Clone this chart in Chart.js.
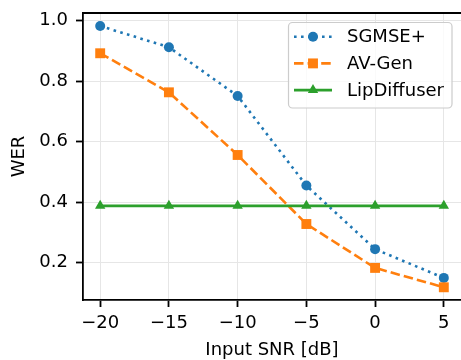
<!DOCTYPE html>
<html>
<head>
<meta charset="utf-8">
<script src="https://cdn.jsdelivr.net/npm/chart.js@4.4.1/dist/chart.umd.min.js"></script>
<style>
  html, body { margin: 0; padding: 0; background: #fff; }
  #wrap { width: 461px; height: 360px; }
</style>
</head>
<body>
<div id="wrap"><canvas id="myChart" width="461" height="360"></canvas></div>
<script>
const snr = [-20, -15, -10, -5, 0, 5];
const sgmse = [0.982, 0.912, 0.751, 0.455, 0.245, 0.150];
const avGen = [0.892, 0.763, 0.556, 0.328, 0.183, 0.119];
const lipDiffuser = [0.388, 0.388, 0.388, 0.388, 0.388, 0.388];
const xTicks = [-20, -15, -10, -5, 0, 5];
const yTicks = [0.2, 0.4, 0.6, 0.8, 1.0];

const FONT = 'DejaVu Sans';
const FS = 18;

const toPts = vals => snr.map((x, i) => ({x: x, y: vals[i]}));

const data = {
  datasets: [
    {
      label: 'SGMSE+',
      data: toPts(sgmse),
      borderColor: '#1f77b4',
      backgroundColor: '#1f77b4',
      borderWidth: 2.6,
      borderDash: [2.6, 4.4],
      pointStyle: 'circle',
      pointRadius: 5,
      pointBorderWidth: 0,
      order: 2
    },
    {
      label: 'AV-Gen',
      data: toPts(avGen),
      borderColor: '#ff7f0e',
      backgroundColor: '#ff7f0e',
      borderWidth: 2.6,
      borderDash: [9.5, 4.1],
      pointStyle: 'rect',
      pointRadius: 7,
      pointBorderWidth: 0,
      order: 1
    },
    {
      label: 'LipDiffuser',
      data: toPts(lipDiffuser),
      borderColor: '#2ca02c',
      backgroundColor: '#2ca02c',
      borderWidth: 2.6,
      borderDash: [],
      pointStyle: 'triangle',
      pointRadius: 6,
      pointBorderWidth: 0,
      order: 0
    }
  ]
};

// frame top line + legend box inside the axes
const framePlugin = {
  id: 'frame',
  afterDraw(chart) {
    const {ctx, chartArea} = chart;
    ctx.save();
    ctx.strokeStyle = '#000';
    ctx.lineWidth = 1.8;
    ctx.beginPath();
    ctx.moveTo(chartArea.left, chartArea.top);
    ctx.lineTo(chartArea.right, chartArea.top);
    ctx.stroke();

    // legend
    const bx = 288.5, by = 22.5, bw = 163.5, bh = 85.5, r = 4;
    ctx.beginPath();
    ctx.moveTo(bx + r, by);
    ctx.arcTo(bx + bw, by, bx + bw, by + bh, r);
    ctx.arcTo(bx + bw, by + bh, bx, by + bh, r);
    ctx.arcTo(bx, by + bh, bx, by, r);
    ctx.arcTo(bx, by, bx + bw, by, r);
    ctx.closePath();
    ctx.fillStyle = 'rgba(255,255,255,0.8)';
    ctx.fill();
    ctx.strokeStyle = '#cccccc';
    ctx.lineWidth = 1.2;
    ctx.stroke();

    const rows = [36.7, 63.4, 90.1];
    chart.data.datasets.forEach((ds, i) => {
      const y = rows[i];
      ctx.strokeStyle = ds.borderColor;
      ctx.lineWidth = ds.borderWidth;
      ctx.setLineDash(ds.borderDash);
      ctx.beginPath();
      ctx.moveTo(294, y);
      ctx.lineTo(332, y);
      ctx.stroke();
      ctx.setLineDash([]);
      ctx.fillStyle = ds.backgroundColor;
      Chart.helpers.drawPoint(ctx, {pointStyle: ds.pointStyle, radius: ds.pointRadius, borderWidth: 0, rotation: 0}, 313, y);
      ctx.fillStyle = '#000';
      ctx.font = FS + 'px "' + FONT + '"';
      ctx.textBaseline = 'middle';
      ctx.textAlign = 'left';
      ctx.fillText(ds.label, 347, y + 1);
    });
    ctx.restore();
  }
};

const config = {
  type: 'line',
  data,
  options: {
    responsive: false,
    animation: false,
    layout: { autoPadding: false, padding: { left: 0, top: 13, right: 0, bottom: 0 } },
    plugins: {
      legend: { display: false },
      tooltip: { enabled: false }
    },
    scales: {
      x: {
        type: 'linear',
        min: -21.25,
        max: 6.25,
        afterBuildTicks: s => { s.ticks = xTicks.map(v => ({value: v})); },
        afterFit: s => { s.height = 60; s.paddingLeft = 0; s.paddingRight = 0; },
        grid: { color: '#e6e6e6', lineWidth: 1, tickColor: '#000', tickLength: 7, tickWidth: 1.8 },
        border: { color: '#000', width: 1.8 },
        ticks: {
          color: '#000',
          font: { family: FONT, size: FS },
          padding: 6,
          maxRotation: 0,
          callback: v => String(v).replace('-', '\u2212')
        },
        title: {
          display: true,
          text: 'Input SNR [dB]',
          color: '#000',
          font: { family: FONT, size: FS },
          padding: { top: 0, bottom: -1.5 }
        }
      },
      y: {
        min: 0.077,
        max: 1.025,
        afterBuildTicks: s => { s.ticks = yTicks.map(v => ({value: v})); },
        afterFit: s => { s.width = 83; s.paddingTop = 0; s.paddingBottom = 0; },
        grid: { color: '#e6e6e6', lineWidth: 1, tickColor: '#000', tickLength: 7, tickWidth: 1.8 },
        border: { color: '#000', width: 1.8 },
        ticks: {
          color: '#000',
          font: { family: FONT, size: FS },
          padding: 8,
          callback: v => v.toFixed(1)
        },
        title: {
          display: true,
          text: 'WER',
          color: '#000',
          font: { family: FONT, size: FS },
          padding: { top: 8.5, bottom: 0 }
        }
      }
    }
  },
  plugins: [framePlugin]
};

const myChart = new Chart(document.getElementById('myChart').getContext('2d'), config);
</script>
</body>
</html>
